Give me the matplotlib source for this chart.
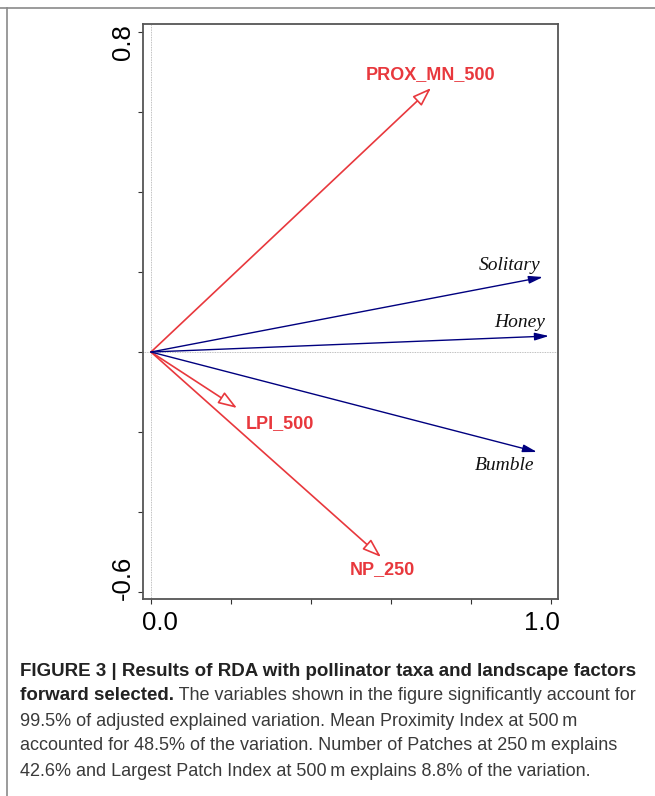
import matplotlib
matplotlib.use("Agg")
import matplotlib.pyplot as plt
from matplotlib.lines import Line2D
from matplotlib.transforms import ScaledTranslation

# RDA biplot values
env_names = ["PROX_MN_500", "LPI_500", "NP_250"]
env_x = [0.70, 0.215, 0.575]
env_y = [0.66, -0.14, -0.5125]

taxa_names = ["Solitary", "Honey", "Bumble"]
taxa_x = [0.98, 0.995, 0.965]
taxa_y = [0.1875, 0.04, -0.25]

x_ticks = [0.0, 0.2, 0.4, 0.6, 0.8, 1.0]
x_ticklabels = ["0.0", "", "", "", "", "1.0"]
y_ticks = [-0.6, -0.4, -0.2, 0.0, 0.2, 0.4, 0.6, 0.8]
y_ticklabels = ["-0.6", "", "", "", "", "", "", "0.8"]

caption_title = "FIGURE 3 | Results of RDA with pollinator taxa and landscape factors"
caption_lines = [
    ("forward selected.", " The variables shown in the figure significantly account for"),
    ("", "99.5% of adjusted explained variation. Mean Proximity Index at 500\u2009m"),
    ("", "accounted for 48.5% of the variation. Number of Patches at 250\u2009m explains"),
    ("", "42.6% and Largest Patch Index at 500\u2009m explains 8.8% of the variation."),
]

red = "#e8383d"
blue = "#00007f"

fig = plt.figure(figsize=(6.55, 7.96), dpi=100)
ax = fig.add_axes([0.2183, 0.2475, 0.6336, 0.7223])

ax.axhline(0, color="#aaaaaa", lw=0.6, ls=(0, (1, 1)), zorder=0)
ax.axvline(0, color="#aaaaaa", lw=0.6, ls=(0, (1, 1)), zorder=0)

# environment arrows (open heads), label offsets in points
env_off = [(0, 10), (31, -11), (0.7, -9.4)]
for name, x, y, off in zip(env_names, env_x, env_y, env_off):
    ax.annotate("", xy=(x, y), xytext=(0, 0),
                arrowprops=dict(arrowstyle="-|>,head_length=1.15,head_width=0.4",
                                color=red, fc="white", lw=1.2,
                                shrinkA=0, shrinkB=0))
    ax.annotate(name, xy=(x, y), xytext=off, textcoords="offset points",
                ha="center", va="center", color=red, fontsize=13,
                fontweight="bold", family="Liberation Sans")

# taxa arrows (filled heads)
taxa_off = [(-24, 8.6), (-21, 9.4), (-23, -10)]
for name, x, y, off in zip(taxa_names, taxa_x, taxa_y, taxa_off):
    ax.annotate("", xy=(x, y), xytext=(0, 0),
                arrowprops=dict(arrowstyle="-|>,head_length=0.85,head_width=0.23",
                                color=blue, lw=1.0, shrinkA=0, shrinkB=0))
    ax.annotate(name, xy=(x, y), xytext=off, textcoords="offset points",
                ha="center", va="center", color="#111111", fontsize=14,
                fontstyle="italic", family="Liberation Serif")

ax.set_xlim(-0.02, 1.0175)
ax.set_ylim(-0.6175, 0.82)
ax.set_xticks(x_ticks)
ax.set_xticklabels(x_ticklabels, fontsize=18.5, family="Liberation Sans")
ax.set_yticks(y_ticks)
ax.set_yticklabels(y_ticklabels, fontsize=18.5, family="Liberation Sans",
                   rotation=90, va="center")
ax.tick_params(direction="out", length=3.6, width=0.8, color="#333333")
ax.tick_params(axis="x", pad=5)
ax.tick_params(axis="y", pad=2.5)
for s in ax.spines.values():
    s.set_color("#555555")
    s.set_linewidth(1.3)

# end labels pulled inside the box edges, like the original
x_shift = {"0.0": 9, "1.0": -9}
y_shift = {"0.8": -10.5, "-0.6": 14.5}
for lab in ax.get_xticklabels():
    dx = x_shift.get(lab.get_text(), 0)
    lab.set_transform(lab.get_transform() + ScaledTranslation(dx / 100, 0, fig.dpi_scale_trans))
for lab in ax.get_yticklabels():
    dy = y_shift.get(lab.get_text(), 0)
    lab.set_transform(lab.get_transform() + ScaledTranslation(0, dy / 100, fig.dpi_scale_trans))

# page frame lines
fig.add_artist(Line2D([0, 1], [1 - 8 / 796, 1 - 8 / 796], color="#8a8a8a", lw=1.2))
fig.add_artist(Line2D([7 / 655, 7 / 655], [0, 1 - 8 / 796], color="#8a8a8a", lw=1.2))

# caption
cap_font = "Liberation Sans"
cap_size = 13.0
bold_size = 13.5
x0 = 20 / 655
fig.text(x0, 1 - 671 / 796, caption_title, fontsize=bold_size, fontweight="bold",
         family=cap_font, color="#222222", va="center")
renderer = fig.canvas.get_renderer()
for i, (bold, rest) in enumerate(caption_lines):
    y = 1 - (696 + 25.0 * i) / 796
    xs = x0
    if bold:
        t = fig.text(xs, y, bold, fontsize=bold_size, fontweight="bold",
                     family=cap_font, color="#222222", va="center")
        bb = t.get_window_extent(renderer)
        xs = bb.x1 / fig.bbox.width
    fig.text(xs, y, rest, fontsize=cap_size, family=cap_font,
             color="#3a3a3a", va="center")

fig.savefig("out.png", dpi=100)
